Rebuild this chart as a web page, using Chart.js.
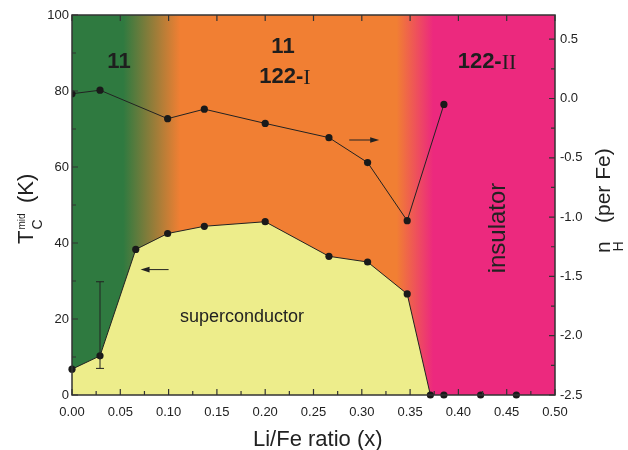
<!DOCTYPE html>
<html>
<head>
<meta charset="utf-8">
<script src="https://cdn.jsdelivr.net/npm/chart.js@4/dist/chart.umd.min.js"></script>
<style>
	html, body { margin: 0; padding: 0; background: #fff; }
	#wrap { width: 628px; height: 450px; }
</style>
</head>
<body>
<div id="wrap"><canvas id="chartPhase" width="628" height="450"></canvas></div>
<script>
'use strict';

// tick labels
const xTicks = [0, 0.05, 0.10, 0.15, 0.20, 0.25, 0.30, 0.35, 0.40, 0.45, 0.50];
const leftTicks = [0, 20, 40, 60, 80, 100];
const rightTicks = [-2.5, -2.0, -1.5, -1.0, -0.5, 0.0, 0.5];

// Tc mid (K), superconducting branch
const tcX = [0.000, 0.029, 0.066, 0.099, 0.137, 0.200, 0.266, 0.306, 0.347, 0.371];
const tcY = [6.8, 10.3, 38.3, 42.5, 44.4, 45.6, 36.5, 35.0, 26.6, 0];

// Tc = 0 samples (insulating)
const insX = [0.385, 0.423, 0.460];
const insY = [0, 0, 0];

// Hall number nH (per Fe)
const nhX = [0.000, 0.029, 0.099, 0.137, 0.200, 0.266, 0.306, 0.347, 0.385];
const nhY = [0.04, 0.07, -0.17, -0.09, -0.21, -0.33, -0.54, -1.03, -0.05];

// error bar on the x = 0.029 point
const errX = 0.029;
const errLow = 7.0;
const errHigh = 29.8;

const GREEN = '#2f7a40';
const ORANGE = '#f17f33';
const PINK = '#ec297e';
const YELLOW = '#eded8b';
const INK = '#222222';
const SANS = '"Liberation Sans", Arial, sans-serif';
const SERIF = '"Liberation Serif", "Times New Roman", serif';

function pts(xs, ys) {
	return xs.map(function(x, i) { return { x: x, y: ys[i] }; });
}

function setTicks(list) {
	return function(scale) {
		scale.ticks = list.map(function(v) { return { value: v }; });
	};
}

// phase-coloured background behind the plot
const phaseBg = {
	id: 'phaseBg',
	beforeDraw(chart) {
		const ctx = chart.ctx, a = chart.chartArea, x = chart.scales.x;
		const f = function(v) { return (x.getPixelForValue(v) - a.left) / (a.right - a.left); };
		const g = ctx.createLinearGradient(a.left, 0, a.right, 0);
		g.addColorStop(0, GREEN);
		g.addColorStop(f(0.053), GREEN);
		g.addColorStop(f(0.112), ORANGE);
		g.addColorStop(f(0.336), ORANGE);
		g.addColorStop(f(0.374), PINK);
		g.addColorStop(1, PINK);
		ctx.save();
		ctx.fillStyle = g;
		ctx.fillRect(a.left, a.top, a.right - a.left, a.bottom - a.top);
		ctx.restore();
	}
};

function arrow(ctx, x1, x2, y) {
	// head at x2
	const d = x2 > x1 ? 1 : -1;
	ctx.beginPath();
	ctx.moveTo(x1, y);
	ctx.lineTo(x2 - d * 6, y);
	ctx.stroke();
	ctx.beginPath();
	ctx.moveTo(x2, y);
	ctx.lineTo(x2 - d * 9, y - 2.8);
	ctx.lineTo(x2 - d * 9, y + 2.8);
	ctx.closePath();
	ctx.fill();
}

// error bar, arrows and in-plot labels
const extras = {
	id: 'extras',
	afterDatasetsDraw(chart) {
		const ctx = chart.ctx, s = chart.scales;
		ctx.save();
		ctx.strokeStyle = INK;
		ctx.fillStyle = INK;
		ctx.lineWidth = 1;

		const ex = s.x.getPixelForValue(errX);
		const eTop = s.y.getPixelForValue(errHigh), eBot = s.y.getPixelForValue(errLow);
		ctx.beginPath();
		ctx.moveTo(ex, eTop); ctx.lineTo(ex, eBot);
		ctx.moveTo(ex - 4, eTop); ctx.lineTo(ex + 4, eTop);
		ctx.moveTo(ex - 4, eBot); ctx.lineTo(ex + 4, eBot);
		ctx.stroke();

		arrow(ctx, s.x.getPixelForValue(0.100), s.x.getPixelForValue(0.071), s.y.getPixelForValue(33));
		arrow(ctx, s.x.getPixelForValue(0.287), s.x.getPixelForValue(0.318), s.y1.getPixelForValue(-0.35));

		ctx.textBaseline = 'middle';
		ctx.textAlign = 'center';
		ctx.fillStyle = '#1e1e1e';
		ctx.font = 'bold 22px ' + SANS;
		ctx.fillText('11', 119, 62);
		ctx.fillText('11', 283, 47);

		// "122-I" and "122-II": bold sans + serif roman numerals
		function phaseLabel(text, roman, cx, cy) {
			ctx.font = 'bold 22px ' + SANS;
			const w1 = ctx.measureText(text).width;
			ctx.font = '22px ' + SERIF;
			const w2 = ctx.measureText(roman).width;
			const left = cx - (w1 + w2) / 2;
			ctx.textAlign = 'left';
			ctx.font = 'bold 22px ' + SANS;
			ctx.fillText(text, left, cy);
			ctx.font = '22px ' + SERIF;
			ctx.fillText(roman, left + w1, cy + 1);
		}
		phaseLabel('122-', 'I', 285, 77);
		phaseLabel('122-', 'II', 487, 62);

		ctx.textAlign = 'center';
		ctx.font = '18px ' + SANS;
		ctx.fillStyle = INK;
		ctx.fillText('superconductor', 242, 317);

		ctx.translate(498, 228);
		ctx.rotate(-Math.PI / 2);
		ctx.font = '24px ' + SANS;
		ctx.fillText('insulator', 0, 0);
		ctx.restore();
	},
	afterDraw(chart) {
		const ctx = chart.ctx, a = chart.chartArea, s = chart.scales;
		ctx.save();
		ctx.strokeStyle = '#333';
		ctx.lineWidth = 1.2;

		// inward tick marks
		ctx.beginPath();
		xTicks.forEach(function(v, i) {
			const px = s.x.getPixelForValue(v);
			ctx.moveTo(px, a.bottom); ctx.lineTo(px, a.bottom - 6);
			ctx.moveTo(px, a.top); ctx.lineTo(px, a.top + 6);
			if (i < xTicks.length - 1) {
				const mx = s.x.getPixelForValue(v + 0.025);
				ctx.moveTo(mx, a.bottom); ctx.lineTo(mx, a.bottom - 4);
			}
		});
		leftTicks.forEach(function(v, i) {
			const py = s.y.getPixelForValue(v);
			ctx.moveTo(a.left, py); ctx.lineTo(a.left + 6, py);
			if (i < leftTicks.length - 1) {
				const my = s.y.getPixelForValue(v + 10);
				ctx.moveTo(a.left, my); ctx.lineTo(a.left + 4, my);
			}
		});
		rightTicks.forEach(function(v) {
			const py = s.y1.getPixelForValue(v);
			ctx.moveTo(a.right, py); ctx.lineTo(a.right - 6, py);
			const my = s.y1.getPixelForValue(v + 0.25);
			if (my > a.top) { ctx.moveTo(a.right, my); ctx.lineTo(a.right - 4, my); }
		});
		ctx.stroke();

		ctx.lineWidth = 1.5;
		ctx.strokeRect(a.left, a.top, a.right - a.left, a.bottom - a.top);

		// axis titles with sub/superscripts
		ctx.fillStyle = INK;
		ctx.textAlign = 'left';
		ctx.textBaseline = 'alphabetic';
		ctx.font = '22px ' + SANS;
		ctx.fillText('Li/Fe ratio (x)', 253, 446);

		ctx.save();
		ctx.translate(33, 244);
		ctx.rotate(-Math.PI / 2);
		ctx.font = '22px ' + SANS;
		ctx.fillText('T', 0, 0);
		ctx.font = '10px ' + SANS;
		ctx.fillText('mid', 14.5, -8);
		ctx.font = '14px ' + SANS;
		ctx.fillText('C', 14.5, 9);
		ctx.font = '22px ' + SANS;
		ctx.fillText('(K)', 41, 0);
		ctx.restore();

		ctx.save();
		ctx.translate(610, 253);
		ctx.rotate(-Math.PI / 2);
		ctx.font = '21px ' + SANS;
		ctx.fillText('n', 0, 0);
		ctx.font = '14px ' + SANS;
		ctx.fillText('H', 1.5, 13);
		ctx.font = '21px ' + SANS;
		ctx.fillText('(per Fe)', 30, 0);
		ctx.restore();

		ctx.restore();
	}
};

const dotStyle = {
	borderColor: INK,
	borderWidth: 1,
	pointRadius: 3.6,
	pointHoverRadius: 3.6,
	pointBackgroundColor: '#1a1a1a',
	pointBorderColor: '#1a1a1a',
	pointBorderWidth: 0,
	tension: 0
};

const tickFont = { family: SANS, size: 13 };

new Chart(document.getElementById('chartPhase'), {
	type: 'line',
	data: {
		datasets: [
			Object.assign({
				label: 'Tc',
				data: pts(tcX, tcY),
				yAxisID: 'y',
				fill: 'origin',
				backgroundColor: YELLOW,
				clip: false
			}, dotStyle),
			Object.assign({
				label: 'Tc = 0',
				data: pts(insX, insY),
				yAxisID: 'y',
				showLine: false,
				clip: false
			}, dotStyle),
			Object.assign({
				label: 'nH',
				data: pts(nhX, nhY),
				yAxisID: 'y1',
				fill: false
			}, dotStyle)
		]
	},
	options: {
		responsive: false,
		animation: false,
		events: [],
		layout: {
			padding: { top: 15, left: 0, right: 0, bottom: 0 }
		},
		plugins: {
			legend: { display: false },
			tooltip: { enabled: false }
		},
		scales: {
			x: {
				type: 'linear',
				min: 0,
				max: 0.5,
				grid: { display: false, drawTicks: false },
				border: { display: false },
				afterBuildTicks: setTicks(xTicks),
				afterFit: function(scale) { scale.height = 55; },
				ticks: {
					autoSkip: false,
					maxRotation: 0,
					padding: 10,
					color: INK,
					font: tickFont,
					callback: function(v) { return v.toFixed(2); }
				}
			},
			y: {
				type: 'linear',
				position: 'left',
				min: 0,
				max: 100,
				grid: { display: false, drawTicks: false },
				border: { display: false },
				afterBuildTicks: setTicks(leftTicks),
				afterFit: function(scale) { scale.width = 72; },
				ticks: {
					padding: 3,
					color: INK,
					font: tickFont,
					callback: function(v) { return String(v); }
				}
			},
			y1: {
				type: 'linear',
				position: 'right',
				min: -2.5,
				max: 0.704,
				grid: { display: false, drawTicks: false },
				border: { display: false },
				afterBuildTicks: setTicks(rightTicks),
				afterFit: function(scale) { scale.width = 73; },
				ticks: {
					padding: 5,
					color: INK,
					font: tickFont,
					callback: function(v) { return v.toFixed(1); }
				}
			}
		}
	},
	plugins: [phaseBg, extras]
});
</script>
</body>
</html>
